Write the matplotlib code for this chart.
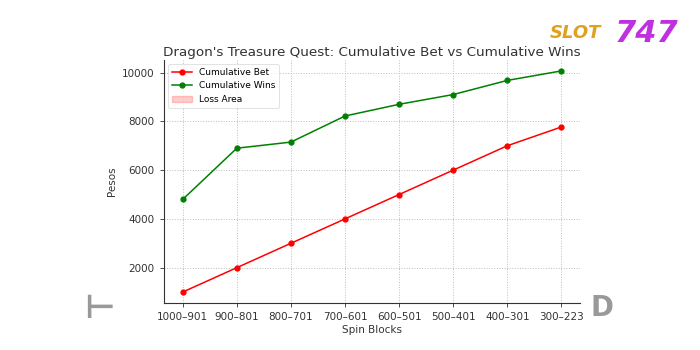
import numpy as np
import matplotlib.pyplot as plt

# Данные
blocks = ["1000–901", "900–801", "800–701", "700–601", "600–501", "500–401", "400–301", "300–223"]
cum_bet = [1000, 2000, 3000, 4000, 5000, 6000, 7000, 7770]
cum_wins = [4800, 6900, 7150, 8220, 8700, 9100, 9680, 10070]

x = np.arange(len(blocks))
bet = np.array(cum_bet)
wins = np.array(cum_wins)

fig = plt.figure(figsize=(7, 3.5), dpi=100)
ax = fig.add_axes([0.234, 0.134, 0.595, 0.695])

ax.plot(x, bet, color='red', marker='o', markersize=3.5, linewidth=1.1, label='Cumulative Bet')
ax.plot(x, wins, color='green', marker='o', markersize=3.5, linewidth=1.1, label='Cumulative Wins')
ax.fill_between(x, bet, wins, where=wins < bet, color='red', alpha=0.2, label='Loss Area')

ax.set_xticks(x)
ax.set_xticklabels(blocks)
ax.set_title("Dragon's Treasure Quest: Cumulative Bet vs Cumulative Wins", fontsize=9.7, color='#333333', pad=3)
ax.set_xlabel("Spin Blocks", fontsize=7.5, color='#333333', labelpad=2)
ax.set_ylabel("Pesos", fontsize=7.5, color='#333333')
ax.tick_params(labelsize=7.5, colors='#333333', length=3, width=0.6)
ax.grid(True, linestyle=':', color='#bbbbbb', linewidth=0.7)
for s in ['top', 'right']:
    ax.spines[s].set_visible(False)
for s in ['left', 'bottom']:
    ax.spines[s].set_linewidth(0.8)
    ax.spines[s].set_color('#333333')

leg = ax.legend(loc='upper left', fontsize=6.5, frameon=True, handlelength=2.2)
leg.get_frame().set_linewidth(0.5)

# логотип и водяные знаки
fig.text(0.785, 0.905, "SLOT", fontsize=13, fontweight='bold', fontstyle='italic', color='#e0a020', ha='left', va='center')
fig.text(0.878, 0.905, "747", fontsize=22, fontweight='bold', fontstyle='italic', color='#c030e0', ha='left', va='center')
fig.text(0.12, 0.12, "⊢", fontsize=24, fontweight='bold', color='#999999', ha='left', va='center')
fig.text(0.843, 0.12, "D", fontsize=20, fontweight='bold', color='#999999', ha='left', va='center')

fig.savefig("out.png", dpi=100)
